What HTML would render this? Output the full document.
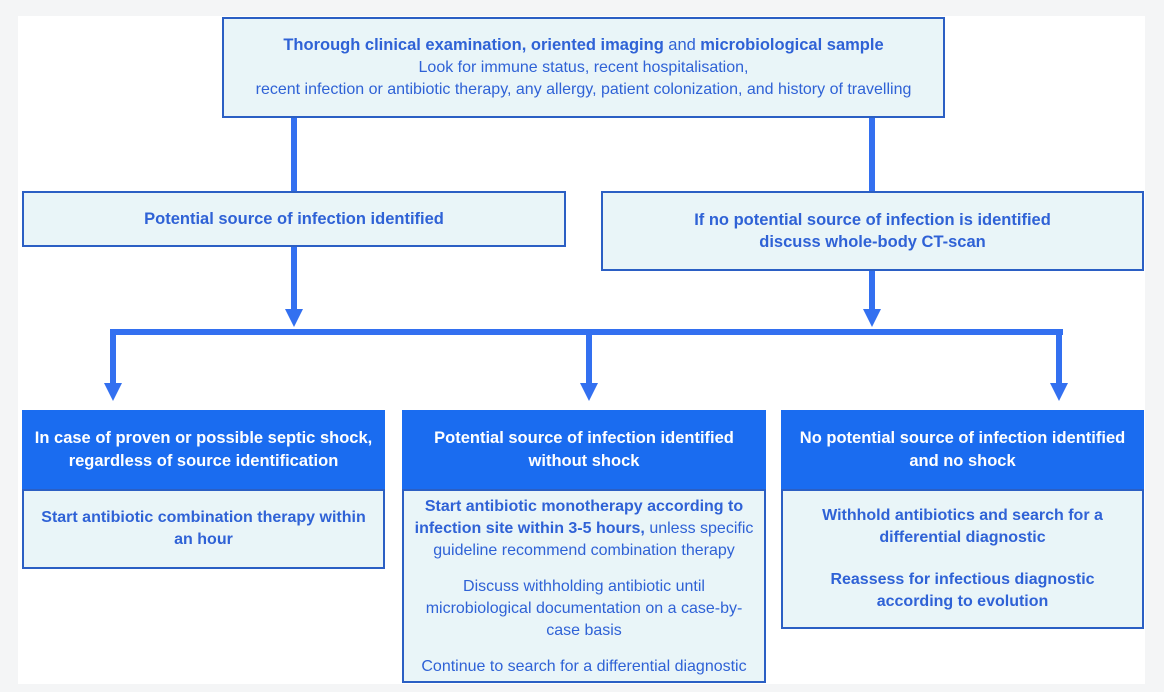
<!DOCTYPE html>
<html><head><meta charset="utf-8"><style>
body{margin:0;width:1164px;height:692px;background:#f4f5f6;position:relative;overflow:hidden;font-family:"Liberation Sans",sans-serif;}
.pg{position:absolute;left:18px;top:16px;width:1127px;height:668px;background:#fff;}
.b{position:absolute;box-sizing:border-box;border:2px solid #2b5fc4;background:#e9f5f8;color:#2f62d6;text-align:center;font-size:16px;line-height:22px;display:flex;flex-direction:column;justify-content:center;white-space:nowrap;}
.h{background:#1a6cf0;color:#fff;border-color:#1a6cf0;font-weight:bold;font-size:16.5px;line-height:23px;}
b{font-weight:bold}
.l{position:absolute;background:#3370f0;}
.a{position:absolute;width:0;height:0;border-left:9px solid transparent;border-right:9px solid transparent;border-top:18px solid #3370f0;}
p{margin:0}
</style></head><body>
<div class="pg"></div>
<div class="b" style="left:222px;top:17px;width:723px;height:101px;font-size:16px;">
<p><b style="font-size:16.5px">Thorough clinical examination, oriented imaging</b> <span style="font-size:16.5px">and</span> <b style="font-size:16.5px">microbiological sample</b></p>
<p>Look for immune status, recent hospitalisation,</p>
<p>recent infection or antibiotic therapy, any allergy, patient colonization, and history of travelling</p></div>
<div class="l" style="left:291px;top:118px;width:6px;height:73px"></div>
<div class="l" style="left:869px;top:118px;width:6px;height:73px"></div>
<div class="b" style="left:22px;top:191px;width:544px;height:56px;font-weight:bold;font-size:16.5px">Potential source of infection identified</div>
<div class="b" style="left:601px;top:191px;width:543px;height:80px;font-weight:bold;font-size:16.5px"><p>If no potential source of infection is identified</p><p>discuss whole-body CT-scan</p></div>
<div class="l" style="left:291px;top:247px;width:6px;height:64px"></div>
<div class="a" style="left:285px;top:309px"></div>
<div class="l" style="left:869px;top:271px;width:6px;height:40px"></div>
<div class="a" style="left:863px;top:309px"></div>
<div class="l" style="left:110px;top:329px;width:953px;height:6px"></div>
<div class="l" style="left:110px;top:329px;width:6px;height:55px"></div>
<div class="a" style="left:104px;top:383px"></div>
<div class="l" style="left:586px;top:329px;width:6px;height:55px"></div>
<div class="a" style="left:580px;top:383px"></div>
<div class="l" style="left:1056px;top:329px;width:6px;height:55px"></div>
<div class="a" style="left:1050px;top:383px"></div>

<div class="b h" style="left:22px;top:410px;width:363px;height:80px"><p>In case of proven or possible septic shock,</p><p>regardless of source identification</p></div>
<div class="b" style="left:22px;top:489px;width:363px;height:80px;font-weight:bold;font-size:16px"><p>Start antibiotic combination therapy within</p><p>an hour</p></div>

<div class="b h" style="left:402px;top:410px;width:364px;height:80px"><p>Potential source of infection identified</p><p>without shock</p></div>
<div class="b" style="left:402px;top:489px;width:364px;height:194px;justify-content:flex-start;padding-top:5px">
<p><b>Start antibiotic monotherapy according to</b></p>
<p><b>infection site within 3-5 hours,</b> unless specific</p>
<p>guideline recommend combination therapy</p>
<p style="margin-top:14px">Discuss withholding antibiotic until</p>
<p>microbiological documentation on a case-by-</p>
<p>case basis</p>
<p style="margin-top:14px">Continue to search for a differential diagnostic</p></div>

<div class="b h" style="left:781px;top:410px;width:363px;height:80px"><p>No potential source of infection identified</p><p>and no shock</p></div>
<div class="b" style="left:781px;top:489px;width:363px;height:140px;font-weight:bold"><p>Withhold antibiotics and search for a</p><p>differential diagnostic</p><p style="margin-top:20px">Reassess for infectious diagnostic</p><p>according to evolution</p></div>
</body></html>
